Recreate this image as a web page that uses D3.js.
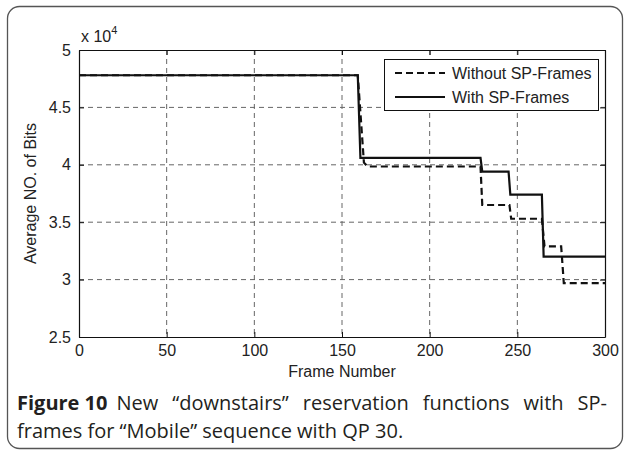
<!DOCTYPE html>
<html>
<head>
<meta charset="utf-8">
<script src="https://cdn.jsdelivr.net/npm/d3@7/dist/d3.min.js"></script>
<style>
  html, body { margin: 0; padding: 0; background: #fff; }
  svg { display: block; }
</style>
</head>
<body>
<svg id="chart" width="625" height="452"></svg>
<script>
// Frame numbers on the x axis, average bit counts on the y axis
const xTicks = [0, 50, 100, 150, 200, 250, 300];
const yTicks = [25000, 30000, 35000, 40000, 45000, 50000];
const yTickLabels = ["2.5", "3", "3.5", "4", "4.5", "5"];

// Reservation function without SP-frames: [frame, bits]
const withoutSP = [
  [0, 47800], [159, 47800], [162.5, 40200], [164.5, 39850], [229, 39850],
  [230, 36500], [245.5, 36500], [246.5, 35300], [264, 35300], [265.5, 32900],
  [275, 32900], [276.5, 29700], [300, 29700]
];
// Reservation function with SP-frames: [frame, bits]
const withSP = [
  [0, 47800], [159, 47800], [160.5, 40600], [229, 40600], [230, 39400],
  [245, 39400], [246, 37400], [264, 37400], [265, 32000], [300, 32000]
];

const seriesNames = ["Without SP-Frames", "With SP-Frames"];
const captionLabel = "Figure 10";
const captionLines = [
  "New \u201cdownstairs\u201d reservation functions with SP-",
  "frames for \u201cMobile\u201d sequence with QP 30."
];

const FONT = "Liberation Sans, Arial, sans-serif";
const FS = 16;

const svg = d3.select("#chart");
const m = { left: 79, right: 605, top: 50, bottom: 337 };

// Rounded figure frame
svg.append("rect")
  .attr("x", 7.5).attr("y", 6.5).attr("width", 615).attr("height", 442)
  .attr("rx", 12).attr("ry", 12)
  .attr("fill", "none").attr("stroke", "#555").attr("stroke-width", 1.3);

const x = d3.scaleLinear().domain([0, 300]).range([m.left, m.right]);
const y = d3.scaleLinear().domain([25000, 50000]).range([m.bottom, m.top]);

// Dashed grid
const grid = svg.append("g").attr("stroke", "#666").attr("stroke-width", 1)
  .attr("stroke-dasharray", "5,4");
grid.selectAll("line.v").data(xTicks.slice(1, -1)).join("line")
  .attr("x1", d => x(d)).attr("x2", d => x(d))
  .attr("y1", m.top).attr("y2", m.bottom);
grid.selectAll("line.h").data(yTicks.slice(1, -1)).join("line")
  .attr("y1", d => y(d)).attr("y2", d => y(d))
  .attr("x1", m.left).attr("x2", m.right);

// Axes with inward ticks
const fmtY = d => yTickLabels[yTicks.indexOf(d)];
const xAxis = d3.axisBottom(x).tickValues(xTicks).tickSizeInner(-5).tickSizeOuter(0).tickPadding(8);
const xAxisTop = d3.axisTop(x).tickValues(xTicks).tickSizeInner(-5).tickSizeOuter(0).tickFormat("");
const yAxis = d3.axisLeft(y).tickValues(yTicks).tickFormat(fmtY).tickSizeInner(-5).tickSizeOuter(0).tickPadding(8);
const yAxisRight = d3.axisRight(y).tickValues(yTicks).tickSizeInner(-5).tickSizeOuter(0).tickFormat("");

function styleAxis(g) {
  g.select(".domain").attr("stroke", "#111").attr("stroke-width", 1.2);
  g.selectAll(".tick line").attr("stroke", "#111");
  g.selectAll(".tick text").attr("font-family", FONT).attr("font-size", FS).attr("fill", "#222");
}
svg.append("g").attr("transform", `translate(0,${m.bottom})`).call(xAxis).call(styleAxis);
svg.append("g").attr("transform", `translate(0,${m.top})`).call(xAxisTop).call(styleAxis);
svg.append("g").attr("transform", `translate(${m.left},0)`).call(yAxis).call(styleAxis);
svg.append("g").attr("transform", `translate(${m.right},0)`).call(yAxisRight).call(styleAxis);

// Exponent marker
const expo = svg.append("text").attr("x", 81).attr("y", 42)
  .attr("font-family", FONT).attr("font-size", FS).attr("fill", "#222");
expo.append("tspan").text("x 10");
expo.append("tspan").attr("dy", -8).attr("font-size", 11).text("4");

// Axis titles
svg.append("text").attr("x", (m.left + m.right) / 2).attr("y", 377)
  .attr("text-anchor", "middle")
  .attr("font-family", FONT).attr("font-size", FS).attr("fill", "#222")
  .text("Frame Number");
svg.append("text")
  .attr("transform", `translate(36,${(m.top + m.bottom) / 2}) rotate(-90)`)
  .attr("text-anchor", "middle")
  .attr("font-family", FONT).attr("font-size", FS).attr("fill", "#222")
  .text("Average NO. of Bits");

// Series lines
const line = d3.line().x(d => x(d[0])).y(d => y(d[1]));
svg.append("path").datum(withoutSP).attr("d", line)
  .attr("fill", "none").attr("stroke", "#111").attr("stroke-width", 2.2)
  .attr("stroke-dasharray", "7,4");
svg.append("path").datum(withSP).attr("d", line)
  .attr("fill", "none").attr("stroke", "#111").attr("stroke-width", 2.2);

// Legend
const lg = svg.append("g");
lg.append("rect").attr("x", 384.5).attr("y", 59.5).attr("width", 214).attr("height", 51)
  .attr("fill", "#fff").attr("stroke", "#111").attr("stroke-width", 1);
const legendRows = [
  { name: seriesNames[0], dash: "7,4", yy: 73 },
  { name: seriesNames[1], dash: null, yy: 97 }
];
legendRows.forEach(r => {
  lg.append("line").attr("x1", 395).attr("x2", 445).attr("y1", r.yy).attr("y2", r.yy)
    .attr("stroke", "#111").attr("stroke-width", 2.2)
    .attr("stroke-dasharray", r.dash);
  lg.append("text").attr("x", 452).attr("y", r.yy + 5.5)
    .attr("font-family", FONT).attr("font-size", FS).attr("fill", "#222")
    .text(r.name);
});

// Caption: bold label, then the first line justified to the right edge
const CAP = { family: "Open Sans, sans-serif", size: 20, fill: "#231f20", left: 17, right: 607, y1: 410, y2: 438 };
const label = svg.append("text").attr("x", CAP.left).attr("y", CAP.y1)
  .attr("font-family", CAP.family).attr("font-size", CAP.size).attr("font-weight", "bold")
  .attr("fill", CAP.fill).text(captionLabel);
const labelW = label.node().getComputedTextLength();
const line1X = CAP.left + labelW + 9;
const l1 = svg.append("text").attr("x", line1X).attr("y", CAP.y1)
  .attr("font-family", CAP.family).attr("font-size", CAP.size)
  .attr("fill", CAP.fill).text(captionLines[0]);
const l1W = l1.node().getComputedTextLength();
const l1Gaps = captionLines[0].split(" ").length - 1;
l1.attr("word-spacing", (CAP.right - line1X - l1W) / l1Gaps);
svg.append("text").attr("x", CAP.left).attr("y", CAP.y2)
  .attr("font-family", CAP.family).attr("font-size", CAP.size)
  .attr("fill", CAP.fill).text(captionLines[1]);
</script>
</body>
</html>
